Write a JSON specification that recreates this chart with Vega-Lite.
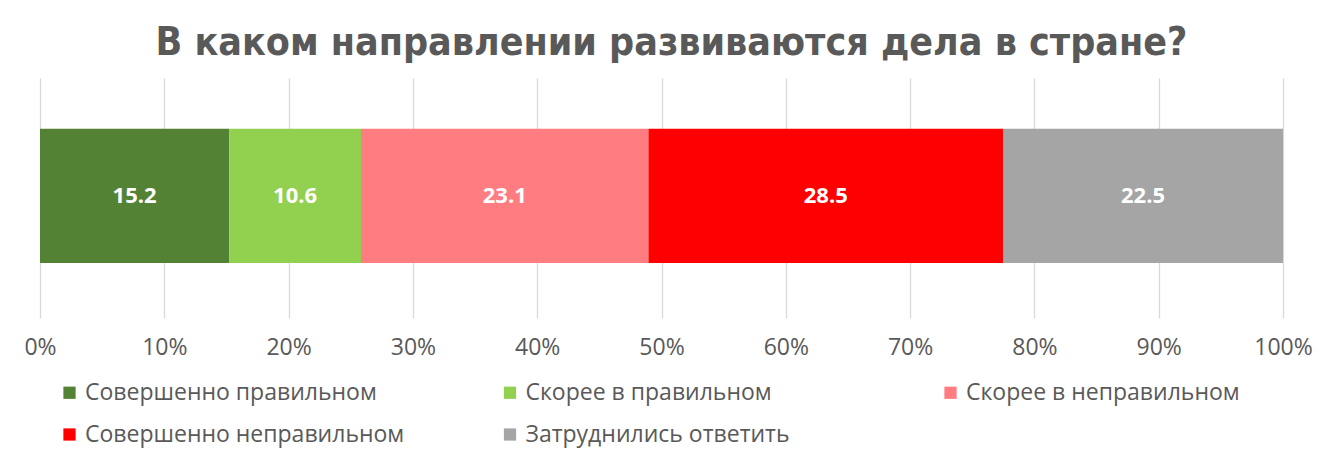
{
  "$schema": "https://vega.github.io/schema/vega-lite/v6.json",
  "width": 1243,
  "height": 240,
  "autosize": "none",
  "padding": {"left": 40, "top": 78, "right": 53, "bottom": 138},
  "background": "white",
  "title": {
    "text": "В каком направлении развиваются дела в стране?",
    "font": "DejaVu Sans Condensed",
    "fontSize": 39,
    "fontWeight": "bold",
    "color": "#595959",
    "anchor": "middle",
    "baseline": "bottom",
    "offset": 12,
    "dy": 36,
    "dx": 10
  },
  "data": {
    "values": [
      {"q": "all", "cat": "Совершенно правильном", "val": 15.2, "ord": 1},
      {"q": "all", "cat": "Скорее в правильном", "val": 10.6, "ord": 2},
      {"q": "all", "cat": "Скорее в неправильном", "val": 23.1, "ord": 3},
      {"q": "all", "cat": "Совершенно неправильном", "val": 28.5, "ord": 4},
      {"q": "all", "cat": "Затруднились ответить", "val": 22.5, "ord": 5}
    ]
  },
  "transform": [
    {"stack": "val", "groupby": ["q"], "sort": [{"field": "ord", "order": "ascending"}], "offset": "normalize", "as": ["x0", "x1"]}
  ],
  "encoding": {
    "y": {"field": "q", "type": "nominal", "axis": null, "scale": {"paddingInner": 0.44, "paddingOuter": 0.22, "align": 0.48}}
  },
  "layer": [
    {
      "mark": {"type": "bar"},
      "encoding": {
        "x": {
          "field": "x0",
          "type": "quantitative",
          "scale": {"domain": [0, 1]},
          "axis": {
            "format": ".0%",
            "values": [0, 0.1, 0.2, 0.3, 0.4, 0.5, 0.6, 0.7, 0.8, 0.9, 1],
            "title": null,
            "domain": false,
            "ticks": false,
            "grid": true,
            "gridColor": "#D9D9D9",
            "gridWidth": 1.3,
            "labelFont": "Open Sans",
            "labelFontSize": 23,
            "labelColor": "#595959",
            "labelPadding": 18,
            "labelFlush": false
          }
        },
        "x2": {"field": "x1"},
        "color": {
          "field": "cat",
          "type": "nominal",
          "sort": ["Совершенно правильном", "Скорее в правильном", "Скорее в неправильном", "Совершенно неправильном", "Затруднились ответить"],
          "scale": {
            "domain": ["Совершенно правильном", "Скорее в правильном", "Скорее в неправильном", "Совершенно неправильном", "Затруднились ответить"],
            "range": ["#548235", "#92D050", "#FF7C80", "#FF0000", "#A5A5A5"]
          },
          "legend": {
            "title": null,
            "orient": "none",
            "legendX": 18,
            "legendY": 303,
            "direction": "horizontal",
            "columns": 3,
            "gridAlign": "all",
            "columnPadding": 93.5,
            "rowPadding": 18,
            "symbolType": "square",
            "symbolSize": 150,
            "symbolStrokeWidth": 0,
            "symbolOpacity": 1,
            "labelFont": "Open Sans",
            "labelFontSize": 23,
            "labelColor": "#595959",
            "labelOffset": 4,
            "labelLimit": 400
          }
        }
      }
    },
    {
      "transform": [
        {"fold": ["x0", "x1"], "as": ["edge", "pos"]}
      ],
      "mark": {"type": "text", "color": "white", "font": "Open Sans", "fontWeight": "bold", "fontSize": 22, "align": "center", "baseline": "middle"},
      "encoding": {
        "x": {"field": "pos", "type": "quantitative", "aggregate": "mean"},
        "text": {"field": "val", "type": "quantitative", "format": ".1f"},
        "detail": {"field": "cat", "type": "nominal"}
      }
    }
  ],
  "config": {"view": {"stroke": null}}
}
